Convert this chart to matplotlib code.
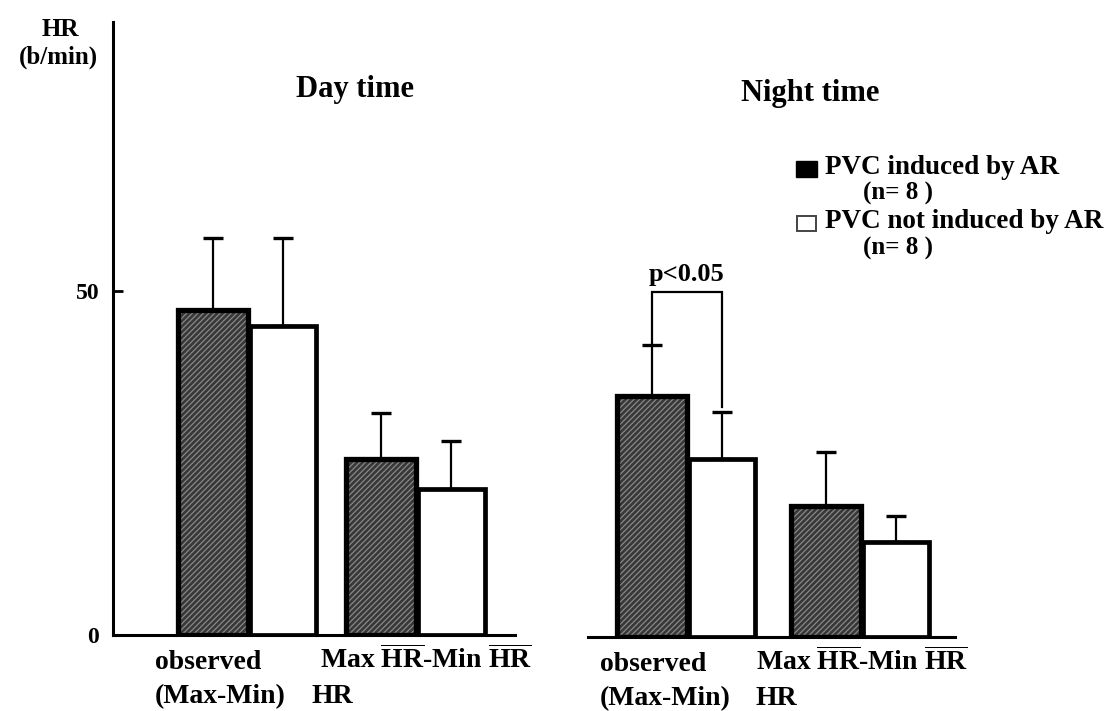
import matplotlib.pyplot as plt
from matplotlib.patches import Rectangle
import numpy as np

plt.rcParams['font.family'] = ['Liberation Serif', 'DejaVu Serif']
plt.rcParams['font.weight'] = 'bold'
plt.rcParams['mathtext.fontset'] = 'custom'
plt.rcParams['mathtext.rm'] = 'Liberation Serif:bold'
plt.rcParams['mathtext.bf'] = 'Liberation Serif:bold'
plt.rcParams['hatch.linewidth'] = 0.9

# mean and SD of HR variation (b/min), PVC induced by AR vs not induced
day_induced = [47.2, 25.6]
day_induced_sd = [10.5, 6.7]
day_not = [44.8, 21.2]
day_not_sd = [12.9, 7.0]

night_induced = [35.0, 19.0]
night_induced_sd = [7.4, 7.9]
night_not = [25.8, 13.8]
night_not_sd = [6.8, 3.7]

yticks = [0, 50]
legend_labels = ['PVC induced by AR', 'PVC not induced by AR']
n_label = '(n= 8 )'

DARK = '#383838'
HATCH = '#888888'


def draw_bars(ax, groups, induced, induced_sd, not_ind, not_sd):
    x1 = np.array(groups) - 0.5
    x2 = np.array(groups) + 0.5
    # dark hatched fill, then thick black outline on top
    ax.bar(x1, induced, width=1.0, color=DARK, edgecolor=HATCH,
           hatch='//////', linewidth=0, zorder=2)
    ax.bar(x1, induced, width=1.0, fill=False, edgecolor='black',
           linewidth=3.8, zorder=3)
    ax.bar(x2, not_ind, width=0.95, color='white', edgecolor='black',
           linewidth=3.4, zorder=3)
    for x, m, s in [(x1, induced, induced_sd), (x2, not_ind, not_sd)]:
        ax.errorbar(x, m, yerr=[np.zeros(len(s)), s], fmt='none',
                    ecolor='black', elinewidth=1.6, capsize=7.5, capthick=2.4,
                    zorder=1)
    return x1, x2


def group_labels(ax, groups, offs):
    tr = ax.get_xaxis_transform()
    ax.text(groups[0] + offs[0], -0.045, 'observed', transform=tr,
            ha='left', va='center', fontsize=20)
    ax.text(groups[0] + offs[0], -0.1, '(Max-Min)', transform=tr,
            ha='left', va='center', fontsize=20)
    ax.text(groups[1] + offs[2], -0.1, 'HR', transform=tr,
            ha='left', va='center', fontsize=20)
    ax.text(groups[1] + offs[1], -0.04,
            r'Max $\overline{\mathrm{HR}}$-Min $\overline{\mathrm{HR}}$',
            transform=tr, ha='left', va='center', fontsize=20)


fig = plt.figure(figsize=(11.16, 7.11), dpi=100)
ax_day = fig.add_axes([113 / 1116, 76 / 711, 402 / 1116, 613 / 711])
ax_night = fig.add_axes([588 / 1116, 74 / 711, 367 / 1116, 613 / 711])

day_groups = [0, 2.4]
night_groups = [0, 2.49]

draw_bars(ax_day, day_groups, day_induced, day_induced_sd, day_not, day_not_sd)
nx1, nx2 = draw_bars(ax_night, night_groups, night_induced, night_induced_sd,
                     night_not, night_not_sd)

ax_day.set_xlim(-1.93, 3.81)
ax_night.set_xlim(-1.414, 3.83)

for ax in (ax_day, ax_night):
    ax.set_ylim(0, 89)
    for side in ('top', 'right'):
        ax.spines[side].set_visible(False)
    ax.spines['bottom'].set_linewidth(2.2)
    ax.set_xticks([])
    ax.patch.set_alpha(0)

ax_day.spines['left'].set_linewidth(2.2)
ax_day.set_yticks(yticks)
ax_day.set_yticklabels([str(t) for t in yticks], fontsize=17)
ax_day.tick_params(axis='y', direction='in', length=7, width=2, pad=10)
ax_night.spines['left'].set_visible(False)
ax_night.set_yticks([])

group_labels(ax_day, day_groups, [-1.33, -1.37, -1.49])
group_labels(ax_night, night_groups, [-1.24, -1.51, -1.51])

# significance bracket between night observed bars
bracket_y = 50.1
left_end = night_induced[0] + night_induced_sd[0]
right_end = night_not[0] + night_not_sd[0] + 0.8
ax_night.plot([nx1[0], nx1[0], nx2[0], nx2[0]],
              [left_end, bracket_y, bracket_y, right_end],
              color='black', lw=1.6, zorder=4, solid_joinstyle='miter')
ax_night.text((nx1[0] + nx2[0]) / 2, bracket_y + 2.5, 'p<0.05',
              ha='center', va='center', fontsize=19)

# panel titles and axis unit
fig.text(355 / 1116, 1 - 90 / 711, 'Day time', ha='center', va='center',
         fontsize=22)
fig.text(810 / 1116, 1 - 93 / 711, 'Night time', ha='center', va='center',
         fontsize=22)
fig.text(60 / 1116, 1 - 29 / 711, 'HR', ha='center', va='center', fontsize=18)
fig.text(58 / 1116, 1 - 57 / 711, '(b/min)', ha='center', va='center',
         fontsize=18)

# legend drawn by hand
fig.patches.append(Rectangle((796 / 1116, 1 - 177 / 711), 21 / 1116, 16 / 711,
                             transform=fig.transFigure, facecolor='black',
                             edgecolor='black', lw=1))
fig.patches.append(Rectangle((797 / 1116, 1 - 231 / 711), 19 / 1116, 15 / 711,
                             transform=fig.transFigure, facecolor='white',
                             edgecolor='#444444', lw=1.4))
fig.text(825 / 1116, 1 - 168 / 711, legend_labels[0], ha='left', va='center',
         fontsize=19.5)
fig.text(863 / 1116, 1 - 193 / 711, n_label, ha='left', va='center',
         fontsize=18)
fig.text(825 / 1116, 1 - 222 / 711, legend_labels[1], ha='left', va='center',
         fontsize=19.5)
fig.text(863 / 1116, 1 - 248 / 711, n_label, ha='left', va='center',
         fontsize=18)

fig.savefig('out.png', dpi=100)
